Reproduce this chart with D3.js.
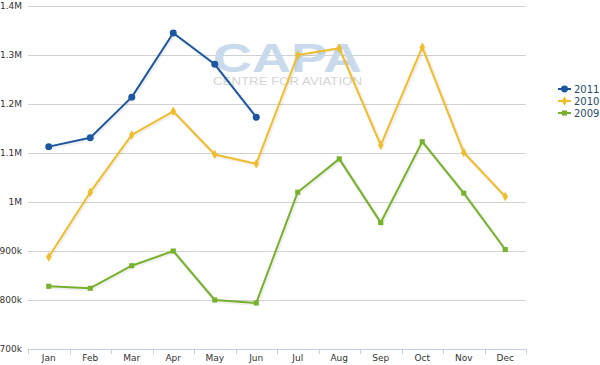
<!DOCTYPE html>
<html>
<head>
<meta charset="utf-8">
<script src="https://cdn.jsdelivr.net/npm/d3@7"></script>
<style>
  body { margin: 0; background: #fff; }
  svg { display: block; font-family: "DejaVu Sans", Verdana, sans-serif; }
</style>
</head>
<body>
<svg width="600" height="365"></svg>
<script>
// passengers per month (thousands)
const months = ["Jan", "Feb", "Mar", "Apr", "May", "Jun", "Jul", "Aug", "Sep", "Oct", "Nov", "Dec"];
const values2011 = [1113, 1131, 1214, 1345, 1281, 1173];
const values2010 = [888, 1020, 1137, 1185, 1097, 1078, 1300, 1314, 1116, 1316, 1101, 1011];
const values2009 = [828, 824, 870, 900, 800, 794, 1020, 1088, 958, 1123, 1018, 903];
const yTicks = [700, 800, 900, 1000, 1100, 1200, 1300, 1400];
const yTickLabels = ["700k", "800k", "900k", "1M", "1.1M", "1.2M", "1.3M", "1.4M"];

const series = [
  {name: "2011", values: values2011, color: "#1c56a0", symbol: d3.symbolCircle, size: 38},
  {name: "2010", values: values2010, color: "#f2bd2b", symbol: d3.symbolDiamond, size: 26},
  {name: "2009", values: values2009, color: "#78b22d", symbol: d3.symbolSquare, size: 26}
];

const svg = d3.select("svg");
const plotLeft = 28, plotRight = 526, plotTop = 6, plotBottom = 349;

const x = d3.scaleBand().domain(months).range([plotLeft, plotRight]);
const y = d3.scaleLinear().domain([700, 1400]).range([plotBottom, plotTop]);

// gridlines
svg.append("g").selectAll("line")
  .data(yTicks.slice(1))
  .join("line")
    .attr("x1", plotLeft).attr("x2", plotRight)
    .attr("y1", d => Math.round(y(d)) + 0.5).attr("y2", d => Math.round(y(d)) + 0.5)
    .attr("stroke", "#d2d2d2");

// y labels
svg.append("g").selectAll("text")
  .data(yTicks)
  .join("text")
    .attr("x", 22).attr("y", d => y(d) + 3)
    .attr("text-anchor", "end")
    .attr("font-size", 9)
    .attr("fill", "#333")
    .text((d, i) => yTickLabels[i]);

// watermark
const wm = svg.append("text")
  .attr("font-family", "'Liberation Sans', Arial, sans-serif");
wm.append("tspan")
  .attr("x", 213).attr("y", 72)
  .attr("font-weight", "bold")
  .attr("font-size", 40)
  .attr("textLength", 149).attr("lengthAdjust", "spacingAndGlyphs")
  .attr("fill", "#c8daeb")
  .text("CAPA");
wm.append("tspan")
  .attr("x", 213).attr("y", 85)
  .attr("font-size", 11.5)
  .attr("textLength", 149).attr("lengthAdjust", "spacingAndGlyphs")
  .attr("fill", "#d5d5d5")
  .text("CENTRE FOR AVIATION");

// x axis
const xAxis = svg.append("g");
xAxis.append("line")
  .attr("x1", plotLeft).attr("x2", plotRight)
  .attr("y1", plotBottom + 0.5).attr("y2", plotBottom + 0.5)
  .attr("stroke", "#c0d0e0");
xAxis.selectAll("line.tick")
  .data(months.concat(["end"]))
  .join("line")
    .attr("class", "tick")
    .attr("x1", (d, i) => Math.round(plotLeft + i * x.bandwidth()) + 0.5)
    .attr("x2", (d, i) => Math.round(plotLeft + i * x.bandwidth()) + 0.5)
    .attr("y1", plotBottom).attr("y2", plotBottom + 5)
    .attr("stroke", "#c0d0e0");
xAxis.selectAll("text")
  .data(months)
  .join("text")
    .attr("x", d => x(d) + x.bandwidth() / 2)
    .attr("y", 361)
    .attr("text-anchor", "middle")
    .attr("font-size", 9)
    .attr("fill", "#333")
    .text(d => d);

const cx = (d, i) => x(months[i]) + x.bandwidth() / 2;
const line = d3.line().x(cx).y(d => y(d));

const plot = svg.append("g");
series.slice().reverse().forEach(s => {
  plot.append("path")
    .attr("d", line(s.values))
    .attr("fill", "none")
    .attr("stroke", "rgba(0,0,0,0.06)")
    .attr("stroke-width", 4)
    .attr("transform", "translate(1,1)");
  plot.append("path")
    .attr("d", line(s.values))
    .attr("fill", "none")
    .attr("stroke", s.color)
    .attr("stroke-width", 2)
    .attr("stroke-linejoin", "round");
  plot.append("g").selectAll("path")
    .data(s.values)
    .join("path")
      .attr("d", d3.symbol().type(s.symbol).size(s.size))
      .attr("transform", (d, i) => `translate(${cx(d, i)},${y(d)})`)
      .attr("fill", s.color);
});

// legend
const legend = svg.append("g").attr("transform", "translate(558,89)");
series.forEach((s, i) => {
  const g = legend.append("g").attr("transform", `translate(0,${i * 12})`);
  g.append("line").attr("x1", 0).attr("x2", 13).attr("stroke", s.color).attr("stroke-width", 2);
  g.append("path").attr("d", d3.symbol().type(s.symbol).size(s.size)).attr("transform", "translate(6.5,0)").attr("fill", s.color);
  g.append("text").attr("x", 16).attr("y", 4).attr("font-size", 10).attr("fill", "#274b6d").text(s.name);
});
</script>
</body>
</html>
